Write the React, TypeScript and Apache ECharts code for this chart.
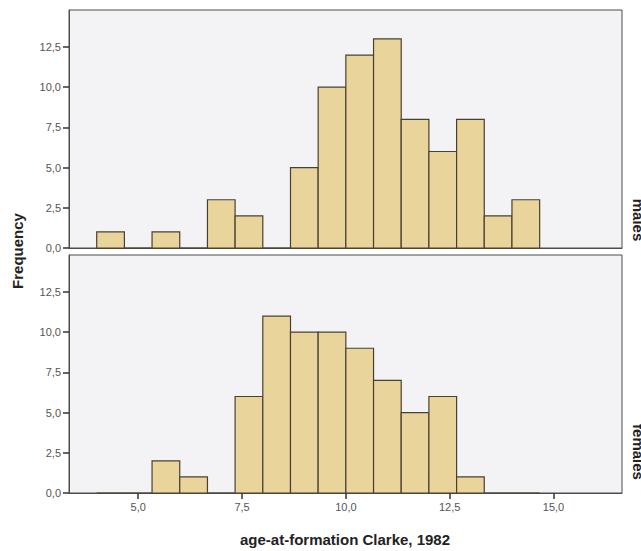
import React, { useEffect, useRef } from "react";
import * as echarts from "echarts";

const binStarts = [4.0, 4.667, 5.333, 6.0, 6.667, 7.333, 8.0, 8.667, 9.333, 10.0, 10.667, 11.333, 12.0, 12.667, 13.333, 14.0];
const binEnds = [4.667, 5.333, 6.0, 6.667, 7.333, 8.0, 8.667, 9.333, 10.0, 10.667, 11.333, 12.0, 12.667, 13.333, 14.0, 14.667];
const malesCounts = [1, 0, 1, 0, 3, 2, 0, 5, 10, 12, 13, 8, 6, 8, 2, 3];
const femalesCounts = [0, 0, 2, 1, 0, 6, 11, 10, 10, 9, 7, 5, 6, 1, 0, 0];
const xTicks = [5, 7.5, 10, 12.5, 15];
const yTicks = [0, 2.5, 5, 7.5, 10, 12.5];
const panelLabels = ["males", "females"];
const xTitle = "age-at-formation Clarke, 1982";
const yTitle = "Frequency";

const FONT = "'Liberation Sans', Arial, sans-serif";
const BAR_FILL = "#E9D59C";
const BAR_STROKE = "#4A4032";
const AXIS_COLOR = "#4d4d4d";
const LABEL_COLOR = "#555555";
const fmt = (v: number) => v.toFixed(1).replace(".", ",");

export default function App() {
  const ref = useRef<HTMLDivElement>(null);
  useEffect(() => {
    if (!ref.current) return;
    const chart = echarts.init(ref.current, null, { renderer: "svg" });
    const mk = (counts: number[]) => binStarts.map((s, i) => [s, binEnds[i], counts[i]]);
    const renderItem = (params: any, api: any) => {
      const x0 = api.value(0);
      const x1 = api.value(1);
      const v = api.value(2);
      const p0 = api.coord([x0, v]);
      const p1 = api.coord([x1, 0]);
      return {
        type: "rect",
        shape: { x: p0[0], y: p0[1], width: p1[0] - p0[0], height: p1[1] - p0[1] },
        style: { fill: BAR_FILL, stroke: BAR_STROKE, lineWidth: 1.2 },
      };
    };
    const xBase = (idx: number, showTicks: boolean) => ({
      type: "value",
      gridIndex: idx,
      min: 3.333,
      max: 16.65,
      axisLine: { show: true, lineStyle: { color: AXIS_COLOR, width: 1 } },
      axisTick: {
        show: showTicks,
        customValues: xTicks,
        length: 6,
        lineStyle: { color: "#333", width: 1.5 },
      },
      axisLabel: {
        show: showTicks,
        customValues: xTicks,
        formatter: fmt,
        fontSize: 11,
        fontFamily: FONT,
        color: LABEL_COLOR,
        margin: 8,
      },
      splitLine: { show: false },
    });
    const yBase = (idx: number) => ({
      type: "value",
      gridIndex: idx,
      min: 0,
      max: 14.8,
      axisLine: { show: true, lineStyle: { color: AXIS_COLOR, width: 1 } },
      axisTick: {
        show: true,
        customValues: yTicks,
        length: 6,
        lineStyle: { color: "#333", width: 1.5 },
      },
      axisLabel: {
        show: true,
        customValues: yTicks,
        formatter: fmt,
        fontSize: 11,
        fontFamily: FONT,
        color: LABEL_COLOR,
        margin: 8,
      },
      splitLine: { show: false },
    });
    chart.setOption({
      animation: false,
      backgroundColor: "#ffffff",
      grid: [
        { left: 69, top: 10, width: 553, height: 238, show: true, backgroundColor: "#F3F3F5", borderColor: AXIS_COLOR, borderWidth: 1 },
        { left: 69, top: 255, width: 553, height: 238, show: true, backgroundColor: "#F3F3F5", borderColor: AXIS_COLOR, borderWidth: 1 },
      ],
      xAxis: [xBase(0, false), xBase(1, true)],
      yAxis: [yBase(0), yBase(1)],
      series: [
        { type: "custom", xAxisIndex: 0, yAxisIndex: 0, renderItem, encode: { x: [0, 1], y: 2 }, data: mk(malesCounts) },
        { type: "custom", xAxisIndex: 1, yAxisIndex: 1, renderItem, encode: { x: [0, 1], y: 2 }, data: mk(femalesCounts) },
      ],
      graphic: [
        {
          type: "text",
          x: 345,
          y: 539,
          style: { text: xTitle, font: `bold 15px ${FONT}`, fill: "#222", textAlign: "center", textVerticalAlign: "middle" },
        },
        {
          type: "text",
          x: 17,
          y: 251,
          rotation: Math.PI / 2,
          style: { text: yTitle, font: `bold 15px ${FONT}`, fill: "#222", textAlign: "center", textVerticalAlign: "middle" },
        },
        {
          type: "text",
          x: 638,
          y: 220,
          rotation: -Math.PI / 2,
          style: { text: panelLabels[0], font: `bold 15px ${FONT}`, fill: "#222", textAlign: "center", textVerticalAlign: "middle" },
        },
        {
          type: "text",
          x: 638,
          y: 452,
          rotation: -Math.PI / 2,
          style: { text: panelLabels[1], font: `bold 15px ${FONT}`, fill: "#222", textAlign: "center", textVerticalAlign: "middle" },
        },
      ],
    });
    return () => chart.dispose();
  }, []);
  return <div ref={ref} style={{ position: "absolute", left: 0, top: 0, width: 641, height: 551 }} />;
}
